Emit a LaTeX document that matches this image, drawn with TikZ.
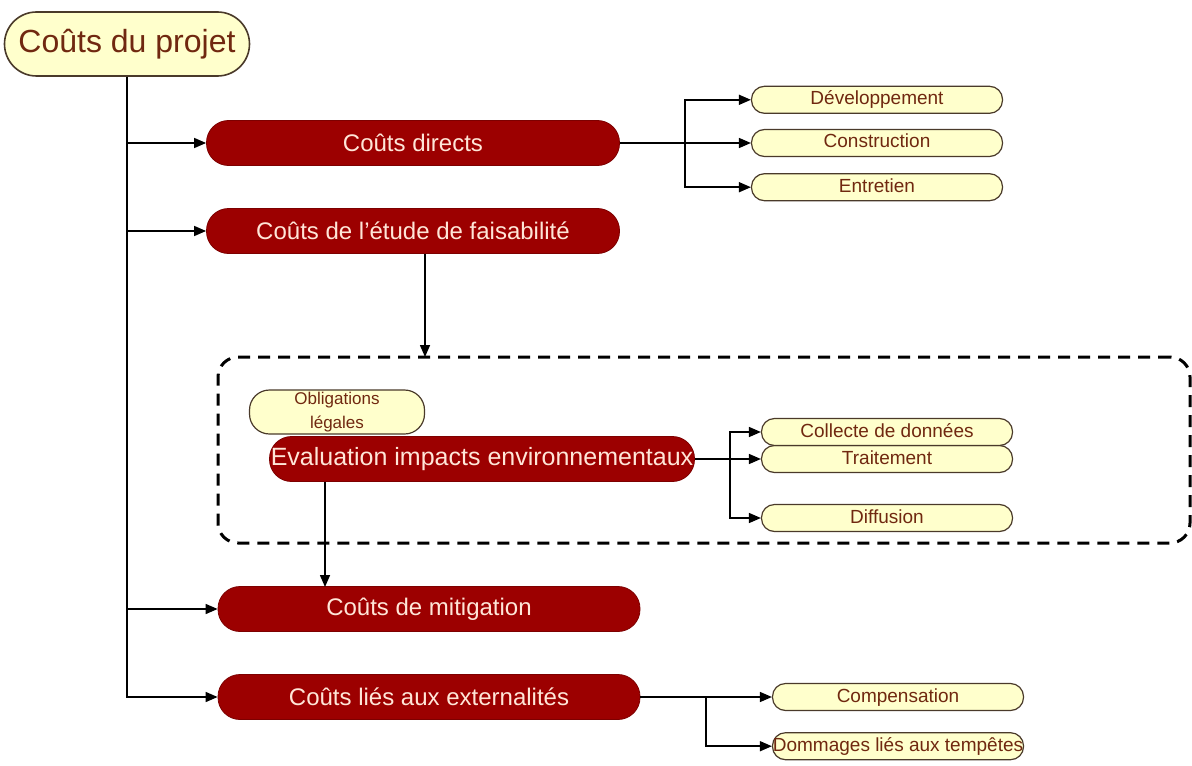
\documentclass[tikz,border=0pt]{standalone}
\usepackage{fontspec}
\setmainfont{Liberation Sans}
\usetikzlibrary{positioning,arrows.meta}

\definecolor{creme}{HTML}{FFFFCC}
\definecolor{sang}{HTML}{9C0000}
\definecolor{brique}{HTML}{702810}
\definecolor{rose}{HTML}{FFE6D8}
\definecolor{bord}{HTML}{4A3A2A}

\tikzset{
  racine/.style={draw=bord, fill=creme, text=brique, line width=0.8pt, rounded corners=16pt,
    minimum width=122.5pt, minimum height=32pt, inner sep=0pt, font=\fontsize{16}{18}\selectfont},
  cout/.style={draw=sang!80!black, fill=sang, text=rose, rounded corners=11pt,
    minimum height=22.5pt, inner sep=0pt, font=\fontsize{12}{14}\selectfont},
  poste/.style={draw=bord, fill=creme, text=brique, line width=0.6pt, rounded corners=6.5pt,
    minimum width=125.5pt, minimum height=13.5pt, inner sep=0pt, text height=7pt, text depth=2pt,
    font=\fontsize{9.5}{11}\selectfont},
  fleche/.style={-{Triangle[length=6pt,width=5pt]}, line width=0.75pt},
  zone/.style={draw, line width=1.5pt, dash pattern=on 6pt off 4pt, rounded corners=10pt,
    minimum width=486pt, minimum height=93pt, inner sep=0pt},
}

\begin{document}
\begin{tikzpicture}[x=0.5pt, y=-0.5pt]
  \useasboundingbox (0,0) rectangle (1192,765);

  \node[zone] (etude) at (704,450) {};

  \node[racine] (projet) at (127,44) {Coûts du projet};
  \node[cout, minimum width=206.5pt] (directs) at (413,143) {Coûts directs};
  \node[cout, minimum width=206.5pt] (faisab) at (413,231) {Coûts de l'étude de faisabilité};
  \node[poste, rounded corners=10pt, minimum width=87.5pt, minimum height=22pt, text height=,
    text depth=, font=\fontsize{8.5}{12}\selectfont, align=center] (oblig) at (337,412) {Obligations\\légales};
  \node[cout, minimum width=212.5pt, font=\fontsize{12.5}{14}\selectfont] (evalu) at (482,459) {Evaluation impacts environnementaux};
  \node[cout, minimum width=211pt] (mitig) at (429,609) {Coûts de mitigation};
  \node[cout, minimum width=211pt] (extern) at (429,697) {Coûts liés aux externalités};

  \node[poste] (constr) at (877,143) {Construction};
  \node[poste, above=7.5pt of constr] (devel) {Développement};
  \node[poste, below=8pt of constr] (entret) {Entretien};

  \node[poste] (traite) at (887,459) {Traitement};
  \node[poste, above=-0.6pt of traite] (collecte) {Collecte de données};
  \node[poste] (diffus) at (887,518) {Diffusion};

  \node[poste] (compens) at (898,697) {Compensation};
  \node[poste, below=10.5pt of compens] (dommage) {Dommages liés aux tempêtes};

  \coordinate (fourche1) at (685,143);
  \coordinate (fourche2) at (730,459);
  \coordinate (fourche3) at (706,697);
  \coordinate (entree1) at (425,357);
  \coordinate (entree2) at (325,587);

  \draw[fleche] (projet.south) |- (directs.west);
  \draw[fleche] (projet.south) |- (faisab.west);
  \draw[fleche] (projet.south) |- (mitig.west);
  \draw[fleche] (projet.south) |- (extern.west);

  \draw[fleche] (directs.east) -- (constr.west);
  \draw[fleche] (fourche1) |- (devel.west);
  \draw[fleche] (fourche1) |- (entret.west);

  \draw[fleche] (faisab.south -| entree1) -- (entree1);

  \draw[fleche] (evalu.east) -- (traite.west);
  \draw[fleche] (fourche2) |- (collecte.west);
  \draw[fleche] (fourche2) |- (diffus.west);

  \draw[fleche] (evalu.south -| entree2) -- (entree2);

  \draw[fleche] (extern.east) -- (compens.west);
  \draw[fleche] (fourche3) |- (dommage.west);
\end{tikzpicture}
\end{document}
